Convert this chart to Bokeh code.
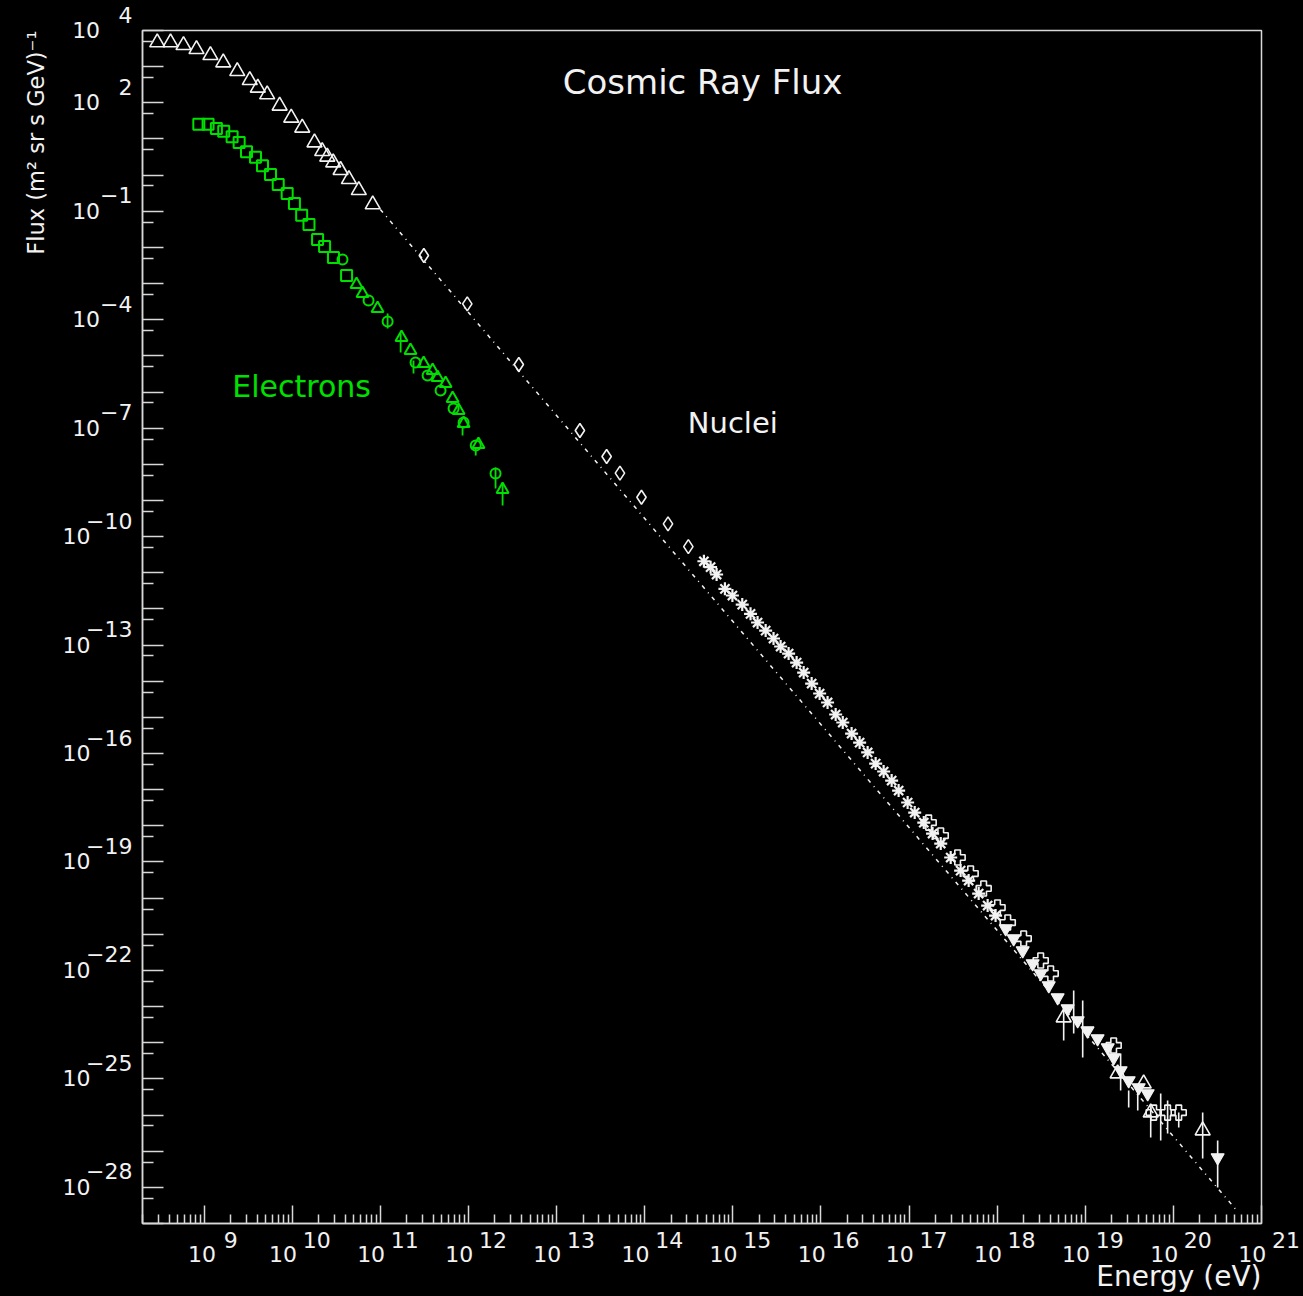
import json
from bokeh.plotting import figure
from bokeh.models import (FixedTicker, Label, Range1d, GlobalInlineStyleSheet,
                          CustomJSTickFormatter, Title)
from bokeh.embed import file_html
from bokeh.resources import INLINE

# ---------------- data ----------------
# axis ranges
X_START, X_END = 2e8, 1e21
Y_START, Y_END = 1e-29, 1e4

# tick-label exponents
x_label_exps = [9, 10, 11, 12, 13, 14, 15, 16, 17, 18, 19, 20, 21]
y_label_exps = [4, 2, -1, -4, -7, -10, -13, -16, -19, -22, -25, -28]

# Nuclei: direct measurements (open triangles)
nuc_tri_E = [2.94e8, 4.16e8, 5.84e8, 8.2e8, 1.18e9, 1.65e9, 2.38e9, 3.30e9, 4.07e9, 5.2e9,
             7.2e9, 9.75e9, 1.30e10, 1.79e10, 2.19e10, 2.50e10, 2.92e10, 3.54e10, 4.40e10,
             5.70e10, 8.2e10]
nuc_tri_F = [4.66e3, 4.66e3, 3.92e3, 3.04e3, 2.07e3, 1.30e3, 748, 422, 260, 170,
             82.6, 38.5, 20.3, 7.98, 4.58, 3.21, 2.23, 1.37, 0.77,
             0.382, 0.154]

# Nuclei: open diamonds
nuc_dia_E = [3.12e11, 9.7e11, 3.73e12, 1.84e13, 3.70e13, 5.24e13, 9.2e13, 1.84e14, 3.13e14]
nuc_dia_F = [5.97e-3, 2.75e-4, 5.77e-6, 8.6e-8, 1.64e-8, 5.7e-9, 1.23e-9, 2.26e-10, 5.3e-11]

# Air showers: asterisks
ast_E = [4.70e14, 5.60e14, 6.55e14, 8.14e14, 9.9e14, 1.28e15, 1.59e15, 1.91e15, 2.36e15,
         2.90e15, 3.49e15, 4.30e15, 5.30e15, 6.37e15, 7.85e15, 9.67e15, 1.19e16, 1.47e16,
         1.77e16, 2.23e16, 2.75e16, 3.39e16, 4.18e16, 5.15e16, 6.35e16, 7.62e16, 9.64e16,
         1.16e17, 1.47e17, 1.85e17, 2.29e17, 2.97e17, 3.85e17, 4.75e17, 6.17e17, 7.80e17,
         9.6e17]
ast_F = [2.08e-11, 1.43e-11, 8.95e-12, 3.60e-12, 2.35e-12, 1.32e-12, 7.31e-13, 4.21e-13,
         2.52e-13, 1.52e-13, 9.12e-14, 5.83e-14, 3.29e-14, 1.74e-14, 8.63e-15, 4.57e-15,
         2.58e-15, 1.20e-15, 7.21e-16, 3.57e-16, 2.01e-16, 1.07e-16, 5.28e-17, 3.18e-17,
         1.79e-17, 9.46e-18, 4.42e-18, 2.33e-18, 1.23e-18, 6.12e-19, 3.24e-19, 1.33e-19,
         5.79e-20, 3.07e-20, 1.34e-20, 6.24e-21, 3.30e-21]

# Highest energies: filled down-triangles
hi_dn_E = [1.25e18, 1.54e18, 1.95e18, 2.53e18, 3.12e18, 3.85e18, 4.86e18, 6.31e18, 8.2e18,
           1.06e19, 1.38e19, 1.80e19, 2.10e19, 2.52e19, 3.11e19, 4.04e19, 5.11e19, 3.18e20]
hi_dn_F = [1.44e-21, 7.62e-22, 3.55e-22, 1.55e-22, 8.2e-23, 3.82e-23, 1.78e-23, 8.83e-24,
           4.11e-24, 2.17e-24, 1.31e-24, 7.36e-25, 3.90e-25, 1.70e-25, 9.0e-26, 5.77e-26,
           3.94e-26, 6.67e-28]

# Highest energies: open crosses
hi_cr_E = [1.67e17, 2.29e17, 3.56e17, 5.0e17, 7.03e17, 1.01e18, 1.32e18, 2.0e18, 3.12e18,
           4.05e18, 2.10e19, 5.98e19, 8.6e19, 1.15e20]
hi_cr_F = [1.23e-18, 5.39e-19, 1.33e-19, 4.79e-20, 1.85e-20, 5.5e-21, 2.11e-21, 7.62e-22,
           1.88e-22, 8.2e-23, 8.4e-25, 1.17e-26, 1.17e-26, 1.17e-26]

# Highest energies: open triangles
hi_tr_E = [5.69e18, 2.33e19, 4.6e19, 5.53e19, 2.15e20]
hi_tr_F = [4.98e-24, 1.41e-25, 7.43e-26, 1.17e-26, 3.73e-27]

# Highest energies: error bars
hi_err_E = [5.69e18, 7.39e18, 9.35e18, 2.52e19, 3.11e19, 3.94e19, 5.53e19, 7.18e19, 8.6e19,
            1.15e20, 2.15e20, 3.18e20]
hi_err_hi = [1.07e-23, 2.78e-23, 1.47e-23, 5.02e-25, 4.76e-26, 4.76e-26, 1.61e-26, 3.94e-26,
             2.52e-26, 1.17e-26, 1.17e-26, 1.97e-27]
hi_err_lo = [1.15e-24, 1.80e-24, 3.90e-25, 4.76e-26, 1.61e-26, 1.33e-26, 2.39e-27, 1.97e-27,
             3.08e-27, 4.5e-27, 6.27e-28, 9.9e-29]

# Power-law reference line (end points)
fit_E = [1.0e11, 5.4e20]
fit_F = [1.12e-1, 2.1e-29]

# Electrons
el_sq_E = [8.71e8, 1.11e9, 1.38e9, 1.67e9, 2.08e9, 2.50e9, 3.03e9, 3.83e9, 4.60e9, 5.67e9,
           6.94e9, 8.77e9, 1.06e10, 1.28e10, 1.55e10, 1.94e10, 2.33e10, 2.94e10, 4.14e10]
el_sq_F = [25.6, 25.6, 19.5, 16.4, 11.5, 7.98, 4.41, 3.13, 1.81, 1.04,
           0.55, 0.31, 0.164, 0.0778, 0.0430, 0.01655, 0.0106, 0.00526, 0.00167]
el_ci_E = [3.72e10, 7.35e10, 1.21e11, 2.51e11, 3.44e11, 4.83e11, 6.78e11, 8.81e11, 1.21e12,
           2.03e12]
el_ci_F = [4.62e-3, 3.40e-4, 8.9e-5, 6.55e-6, 2.86e-6, 1.10e-6, 3.50e-7, 1.43e-7, 3.31e-8,
           5.57e-9]
el_tr_E = [5.37e10, 6.28e10, 9.3e10, 1.74e11, 2.20e11, 3.10e11, 3.92e11, 4.46e11, 5.50e11,
           6.61e11, 7.73e11, 8.81e11, 1.30e12, 2.44e12]
el_tr_F = [9.4e-4, 5.31e-4, 2.04e-4, 3.22e-5, 1.41e-5, 6.14e-6, 3.94e-6, 2.52e-6, 1.72e-6,
           6.61e-7, 3.08e-7, 1.35e-7, 3.53e-8, 2.01e-9]
el_err_E = [1.21e11, 1.70e11, 2.38e11, 8.57e11, 1.21e12, 2.03e12, 2.44e12]
el_err_hi = [1.49e-4, 4.15e-5, 7.43e-6, 1.04e-7, 2.92e-8, 8.15e-9, 2.94e-9]
el_err_lo = [5.71e-5, 1.24e-5, 3.25e-6, 6.26e-8, 1.75e-8, 2.14e-9, 7.25e-10]

# text annotations (data positions)
title_text, title_pos = "Cosmic Ray Flux", (4.54e14, 388.0)
nuclei_text, nuclei_pos = "Nuclei", (1.0e15, 1.35e-7)
electrons_text, electrons_pos = "Electrons", (1.28e10, 1.42e-6)
x_title = "Energy (eV)"
y_title = "Flux (m\u00b2 sr s GeV)\u207b\u00b9"

# ---------------- styling ----------------
WHITE = "#f2f2f2"
FRAME = "#d8d8d8"
GREEN = "#00e000"
FONT = "DejaVu Sans"
NBSP = "\u00a0"
THIN = "\u2009"

p = figure(width=1303, height=1296, x_axis_type="log", y_axis_type="log",
           x_range=Range1d(X_START, X_END), y_range=Range1d(Y_START, Y_END),
           output_backend="svg", toolbar_location=None,
           background_fill_color="black", border_fill_color="black",
           min_border_left=142, min_border_right=42, min_border_top=30,
           min_border_bottom=73)
p.stylesheets = [GlobalInlineStyleSheet(css="html, body { background-color: #000; overflow: hidden; }")]
p.grid.visible = False
p.outline_line_color = FRAME
p.outline_line_width = 1.5

# ticks: decades as major, 2..9 as minor on x; 5 as minor on y
x_major = [10.0 ** n for n in range(9, 22)]
x_minor = [k * 10.0 ** n for n in range(8, 21) for k in range(2, 10) if X_START <= k * 10.0 ** n <= X_END]
y_major = [10.0 ** n for n in range(-29, 5)]
y_minor = [5 * 10.0 ** n for n in range(-30, 4) if Y_START <= 5 * 10.0 ** n <= Y_END]
p.xaxis.ticker = FixedTicker(ticks=x_major, minor_ticks=x_minor)
p.yaxis.ticker = FixedTicker(ticks=y_major, minor_ticks=y_minor)


def exp_str(e):
    return str(e).replace("-", "\u2212")


# tick labels: exponent raised above "10" (two-line labels, padded to offset each line)
x_labels = {}
for e in x_label_exps:
    if len(str(e)) == 1:
        pre, suf = NBSP * 7 + THIN, THIN
    else:
        pre, suf = NBSP * 7, NBSP * 2 + THIN
    x_labels[str(e)] = pre + exp_str(e) + "\n" + "10" + suf
y_labels = {}
for e in y_label_exps:
    pad = NBSP * 4 + THIN if len(str(e)) <= 2 else NBSP * 6
    y_labels[str(e)] = exp_str(e) + "\n" + "10" + pad + "\n"


def make_formatter(mapping):
    code = ("const L = %s; const e = String(Math.round(Math.log10(tick)));"
            " return (e in L) ? L[e] : '';" % json.dumps(mapping))
    return CustomJSTickFormatter(code=code)


p.xaxis.formatter = make_formatter(x_labels)
p.yaxis.formatter = make_formatter(y_labels)

for ax in (p.xaxis[0], p.yaxis[0]):
    ax.axis_line_color = FRAME
    ax.axis_line_width = 1.5
    ax.major_tick_line_color = FRAME
    ax.minor_tick_line_color = FRAME
    ax.major_tick_line_width = 1.5
    ax.minor_tick_line_width = 1.5
    ax.major_tick_out = 0
    ax.minor_tick_out = 0
    ax.major_label_text_font = FONT
    ax.major_label_text_font_size = "22px"
    ax.major_label_text_color = WHITE
p.xaxis.major_label_text_line_height = 0.59
p.yaxis.major_label_text_line_height = 0.62
p.xaxis.major_tick_in = 18
p.xaxis.minor_tick_in = 9
p.yaxis.major_tick_in = 21
p.yaxis.minor_tick_in = 11
p.xaxis.major_label_standoff = 4
p.yaxis.major_label_standoff = 10

# axis titles (right/top aligned, as in the original)
p.add_layout(Title(text=x_title, align="right", vertical_align="top", standoff=-22,
                   text_font=FONT, text_font_size="28px", text_font_style="normal",
                   text_color=WHITE), "below")
p.add_layout(Title(text=y_title, align="right", standoff=21, text_font=FONT,
                   text_font_size="22.5px", text_font_style="normal", text_color=WHITE), "left")

# ---------------- data glyphs ----------------
p.line(fit_E, fit_F, line_color=WHITE, line_width=1.5, line_dash="4 5 1 5")

p.scatter(nuc_tri_E, nuc_tri_F, marker="triangle", size=15, fill_color=None,
          line_color=WHITE, line_width=1.6)
p.scatter(nuc_dia_E, nuc_dia_F, marker="diamond", size=14, fill_color=None,
          line_color=WHITE, line_width=1.6)
p.scatter(ast_E, ast_F, marker="asterisk", size=13, line_color=WHITE, line_width=2.2)
p.segment(x0=hi_err_E, y0=hi_err_lo, x1=hi_err_E, y1=hi_err_hi, line_color=WHITE,
          line_width=1.6)
p.scatter(hi_cr_E, hi_cr_F, marker="plus", size=15, fill_color=None, line_color=WHITE,
          line_width=1.6)
p.scatter(hi_dn_E, hi_dn_F, marker="inverted_triangle", size=13, fill_color=WHITE,
          line_color=WHITE, line_width=1.2)
p.scatter(hi_tr_E, hi_tr_F, marker="triangle", size=15, fill_color=None, line_color=WHITE,
          line_width=1.6)

p.segment(x0=el_err_E, y0=el_err_lo, x1=el_err_E, y1=el_err_hi, line_color=GREEN,
          line_width=1.8)
p.scatter(el_sq_E, el_sq_F, marker="square", size=11, fill_color=None, line_color=GREEN,
          line_width=2)
p.scatter(el_ci_E, el_ci_F, marker="circle", size=10, fill_color=None, line_color=GREEN,
          line_width=2)
p.scatter(el_tr_E, el_tr_F, marker="triangle", size=12, fill_color=None, line_color=GREEN,
          line_width=2)


# ---------------- text ----------------
def add_text(x, y, text, size, color=WHITE):
    p.add_layout(Label(x=x, y=y, text=text, text_align="center", text_baseline="middle",
                       text_color=color, text_font=FONT, text_font_size=size))


add_text(title_pos[0], title_pos[1], title_text, "34px")
add_text(nuclei_pos[0], nuclei_pos[1], nuclei_text, "29px")
add_text(electrons_pos[0], electrons_pos[1], electrons_text, "30px", color=GREEN)

open("out.html", "w").write(file_html(p, INLINE))
